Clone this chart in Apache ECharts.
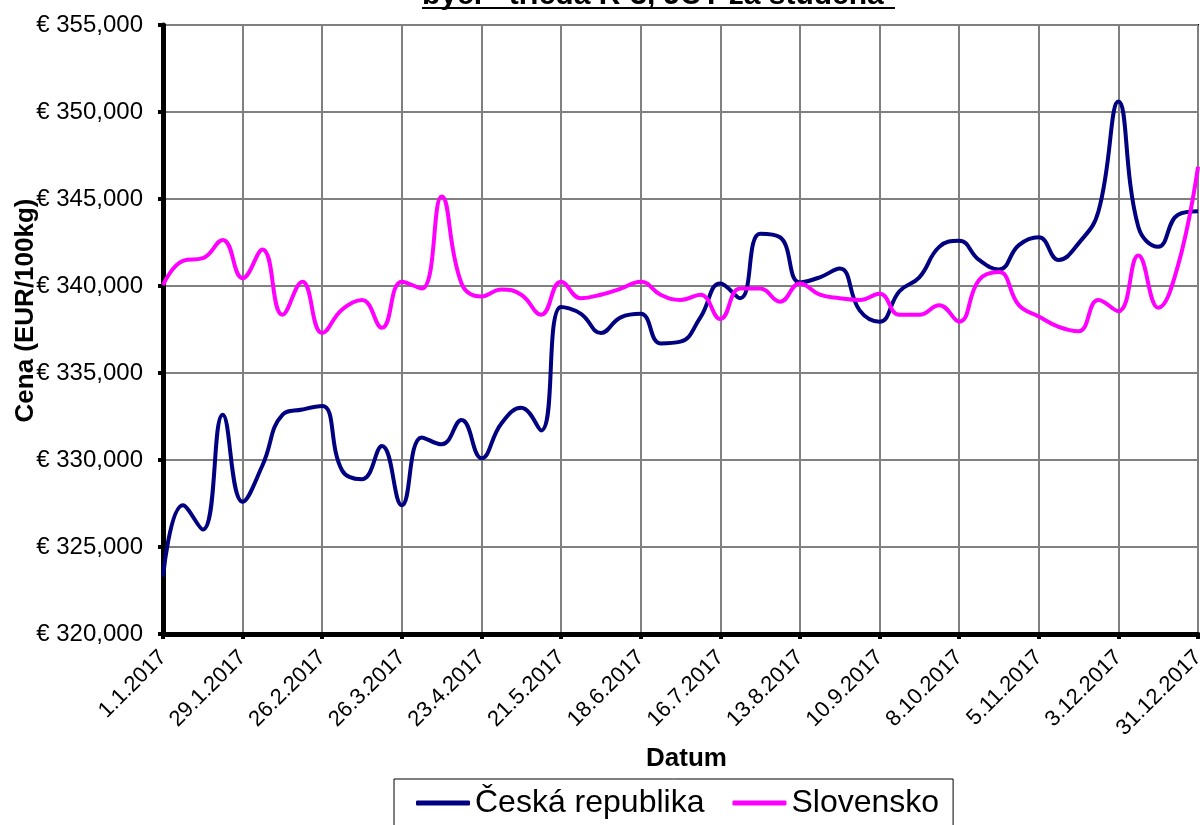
<!DOCTYPE html>
<html>
<head>
<meta charset="utf-8">
<title>Ceny - trieda R-3</title>
<script src="https://cdn.jsdelivr.net/npm/echarts@6/dist/echarts.min.js"></script>
<style>
  html, body { margin: 0; padding: 0; background: #fff; }
  #chart { width: 1200px; height: 825px; }
</style>
</head>
<body>
<div id="chart"></div>
<script>
// týždenné dátumy 2017
const weeks = [
  '1.1.2017', '8.1.2017', '15.1.2017', '22.1.2017', '29.1.2017', '5.2.2017', '12.2.2017',
  '19.2.2017', '26.2.2017', '5.3.2017', '12.3.2017', '19.3.2017', '26.3.2017', '2.4.2017',
  '9.4.2017', '16.4.2017', '23.4.2017', '30.4.2017', '7.5.2017', '14.5.2017', '21.5.2017',
  '28.5.2017', '4.6.2017', '11.6.2017', '18.6.2017', '25.6.2017', '2.7.2017', '9.7.2017',
  '16.7.2017', '23.7.2017', '30.7.2017', '6.8.2017', '13.8.2017', '20.8.2017', '27.8.2017',
  '3.9.2017', '10.9.2017', '17.9.2017', '24.9.2017', '1.10.2017', '8.10.2017', '15.10.2017',
  '22.10.2017', '29.10.2017', '5.11.2017', '12.11.2017', '19.11.2017', '26.11.2017',
  '3.12.2017', '10.12.2017', '17.12.2017', '24.12.2017', '31.12.2017'
];

// Česká republika
const czValues = [
  323300, 327400, 326000, 332600, 327600, 329700, 332600, 332900, 333100, 329400,
  328900, 330800, 327400, 331300, 330900, 332300, 330100, 332100, 333000, 331700,
  338800, 338400, 337300, 338200, 338400, 336700, 336800, 338200, 340150, 339300,
  343000, 342800, 340200, 340500, 341000, 338600, 337950, 339700, 340500, 342250,
  342600, 341500, 340950, 342350, 342800, 341500, 342450, 344300, 350600, 343400,
  342250, 344100, 344300
];

// Slovensko
const skValues = [
  340050, 341450, 341600, 342650, 340450, 342100, 338350, 340250, 337300, 338650,
  339200, 337600, 340250, 339850, 345150, 340150, 339400, 339800, 339500, 338350,
  340250, 339300, 339500, 339850, 340250, 339500, 339200, 339500, 338100, 339850,
  339850, 339100, 340150, 339500, 339300, 339200, 339550, 338350, 338350, 338900,
  337950, 340350, 340800, 338900, 338250, 337650, 337400, 339200, 338550, 341750,
  338750, 341200, 346850
];

const yTicks = { min: 320000, max: 355000, step: 5000 };

const FONT = 'Arial, "Liberation Sans", sans-serif';

const chart = echarts.init(document.getElementById('chart'), null, { renderer: 'canvas' });

chart.setOption({
  backgroundColor: '#fff',
  animation: false,
  title: {
    text: 'býci - trieda R-3, JUT za studena',
    left: 417,
    top: -24,
    textStyle: { fontFamily: FONT, fontSize: 30, fontWeight: 'bold', color: '#000' }
  },
  graphic: [{
    // podčiarknutie nadpisu
    type: 'rect',
    shape: { x: 422, y: 7, width: 473, height: 2 },
    style: { fill: '#000' }
  }],
  legend: {
    left: 394,
    top: 779,
    padding: [8, 14, 30, 22],
    itemGap: 28,
    itemWidth: 54,
    itemHeight: 5,
    icon: 'roundRect',
    borderColor: '#000',
    borderWidth: 1,
    textStyle: { fontFamily: FONT, fontSize: 32, color: '#000' },
    data: ['Česká republika', 'Slovensko']
  },
  grid: {
    left: 163,
    right: 2,
    top: 25,
    bottom: 191,
    containLabel: false,
    outerBoundsMode: 'none',
    show: true,
    borderColor: '#000',
    borderWidth: 2
  },
  xAxis: {
    type: 'category',
    data: weeks,
    boundaryGap: false,
    name: 'Datum',
    nameLocation: 'middle',
    nameGap: 112,
    nameMoveOverlap: false,
    nameTextStyle: { fontFamily: FONT, fontSize: 26, fontWeight: 'bold', color: '#000', padding: [0, 0, 0, 12] },
    axisLine: { lineStyle: { color: '#000', width: 5 } },
    axisTick: { interval: 3, length: 5, lineStyle: { color: '#000', width: 4 } },
    axisLabel: {
      interval: 3,
      rotate: 45,
      margin: 20,
      fontFamily: FONT,
      fontSize: 22,
      color: '#000'
    },
    splitLine: { show: true, interval: 3, lineStyle: { color: '#808080', width: 2 } }
  },
  yAxis: {
    type: 'value',
    min: yTicks.min,
    max: yTicks.max,
    interval: yTicks.step,
    name: 'Cena (EUR/100kg)',
    nameLocation: 'middle',
    nameGap: 124,
    nameMoveOverlap: false,
    nameTextStyle: { fontFamily: FONT, fontSize: 26, fontWeight: 'bold', color: '#000', padding: [0, 0, 0, 38] },
    axisLine: { show: true, lineStyle: { color: '#000', width: 5 } },
    axisTick: { show: true, length: 5, lineStyle: { color: '#000', width: 4 } },
    axisLabel: {
      margin: 20,
      fontFamily: FONT,
      fontSize: 24,
      color: '#000',
      formatter: v => '€ ' + v.toLocaleString('en-US')
    },
    splitLine: { show: true, lineStyle: { color: '#808080', width: 2 } }
  },
  series: [
    {
      name: 'Česká republika',
      type: 'line',
      data: czValues,
      smooth: 0.45,
      symbol: 'none',
      color: '#000080',
      lineStyle: { color: '#000080', width: 4 }
    },
    {
      name: 'Slovensko',
      type: 'line',
      data: skValues,
      smooth: 0.45,
      symbol: 'none',
      color: '#FF00FF',
      lineStyle: { color: '#FF00FF', width: 4 }
    }
  ]
});
</script>
</body>
</html>
